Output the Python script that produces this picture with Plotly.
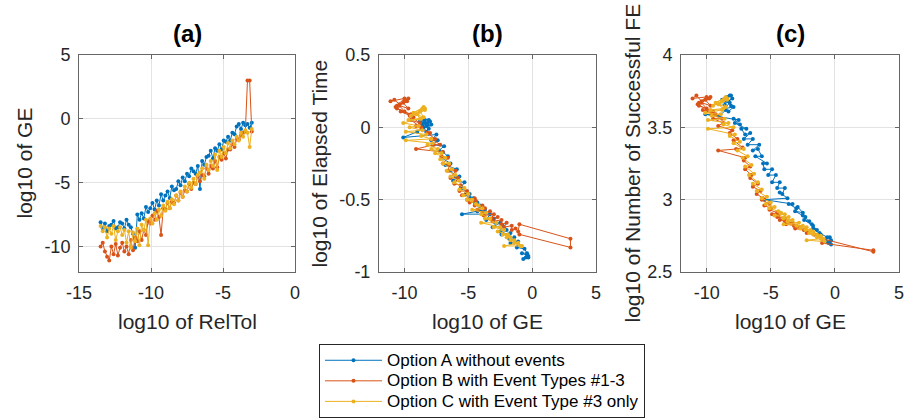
import plotly.graph_objects as go

W, H = 913, 418

reltol = [-13.5, -13.35, -13.2, -13.05, -12.9, -12.75, -12.6, -12.45, -12.3, -12.15,
          -12.0, -11.85, -11.7, -11.55, -11.4, -11.25, -11.1, -10.95, -10.8, -10.65,
          -10.5, -10.35, -10.2, -10.05, -9.9, -9.75, -9.6, -9.45, -9.3, -9.15,
          -9.0, -8.85, -8.7, -8.55, -8.4, -8.25, -8.1, -7.95, -7.8, -7.65,
          -7.5, -7.35, -7.2, -7.05, -6.9, -6.75, -6.6, -6.45, -6.3, -6.15,
          -6.0, -5.85, -5.7, -5.55, -5.4, -5.25, -5.1, -4.95, -4.8, -4.65,
          -4.5, -4.35, -4.2, -4.05, -3.9, -3.75, -3.6, -3.45, -3.3, -3.15, -3.0]

ge_a = [-8.1, -8.6, -8.2, -8.8, -8.4, -8.3, -8.0, -8.6, -8.5, -8.1,
        -8.2, -8.6, -7.9, -8.3, -8.5, -9.0, -10.1, -7.5, -7.9, -7.4,
        -7.8, -6.9, -7.3, -7.0, -6.6, -7.1, -6.4, -6.8, -5.9, -6.4,
        -6.0, -5.7, -6.2, -5.3, -5.6, -5.5, -4.9, -5.2, -4.6, -4.9,
        -4.3, -4.5, -3.9, -4.1, -4.3, -3.7, -5.5, -3.3, -3.6, -3.0,
        -2.9, -2.5, -3.1, -2.3, -2.5, -2.0, -2.4, -1.7, -1.8, -1.4,
        -1.7, -1.1, -1.2, -0.6, -0.4, -0.8, -0.3, -0.5, -0.4, -0.7, -0.3]
ge_b = [-10.0, -9.7, -10.4, -10.8, -11.1, -10.0, -10.6, -9.8, -10.7, -10.1,
        -9.7, -10.4, -10.0, -10.6, -9.5, -10.3, -9.3, -9.6, -8.8, -9.5,
        -8.7, -9.1, -8.0, -8.2, -7.6, -7.9, -7.2, -7.7, -9.1, -7.0,
        -7.1, -6.6, -7.0, -6.5, -6.6, -6.0, -6.4, -5.8, -6.1, -5.6,
        -5.7, -5.1, -5.5, -5.0, -5.1, -4.5, -4.9, -4.4, -4.5, -3.9,
        -4.3, -3.7, -3.9, -3.3, -3.8, -3.0, -3.2, -2.7, -3.1, -2.4,
        -2.4, -2.0, -2.2, -1.6, -1.6, -1.3, -1.1, -1.0, 3.0, 3.0, -1.0]
ge_c = [-8.4, -8.8, -8.5, -9.3, -8.6, -9.0, -8.4, -9.5, -8.8, -8.5,
        -9.1, -8.7, -9.7, -8.8, -10.1, -8.9, -9.6, -8.6, -9.9, -8.3,
        -8.7, -7.9, -9.9, -7.8, -8.2, -7.4, -7.9, -7.1, -7.6, -6.8,
        -7.2, -6.5, -7.0, -6.3, -6.7, -6.0, -6.4, -5.7, -6.1, -5.3,
        -5.7, -5.0, -5.4, -4.7, -5.1, -4.4, -4.2, -3.9, -4.7, -3.6,
        -4.0, -3.3, -3.7, -2.8, -4.0, -2.5, -3.0, -2.2, -2.7, -1.9,
        -2.3, -1.7, -2.0, -1.4, -1.7, -1.1, -1.4, -0.9, -1.1, -2.2, -0.8]

time_a = [0.05, 0.06, 0.03, 0.04, 0.05, 0.01, 0.04, 0.02, 0.03, -0.01,
          0.02, -0.01, 0.02, -0.03, 0.0, -0.03, -0.07, -0.05, -0.09, -0.09,
          -0.12, -0.13, -0.16, -0.17, -0.2, -0.21, -0.25, -0.26, -0.29, -0.3,
          -0.34, -0.34, -0.37, -0.38, -0.42, -0.42, -0.46, -0.46, -0.49, -0.49,
          -0.52, -0.52, -0.55, -0.54, -0.58, -0.57, -0.6, -0.6, -0.64, -0.63,
          -0.66, -0.66, -0.69, -0.68, -0.72, -0.71, -0.74, -0.73, -0.77, -0.76,
          -0.8, -0.79, -0.83, -0.84, -0.87, -0.87, -0.89, -0.9, -0.88, -0.91, -0.9]
time_b = [0.18, 0.2, 0.16, 0.19, 0.18, 0.2, 0.15, 0.18, 0.14, 0.17,
          0.13, 0.15, 0.11, 0.13, 0.09, 0.11, 0.07, 0.08, 0.03, 0.05,
          0.0, 0.01, -0.04, -0.04, -0.08, -0.08, -0.12, -0.12, -0.15, -0.17,
          -0.2, -0.21, -0.25, -0.26, -0.3, -0.3, -0.35, -0.35, -0.39, -0.4,
          -0.44, -0.44, -0.47, -0.46, -0.5, -0.49, -0.52, -0.51, -0.54, -0.54,
          -0.57, -0.56, -0.59, -0.58, -0.61, -0.6, -0.63, -0.62, -0.65, -0.64,
          -0.67, -0.66, -0.69, -0.68, -0.71, -0.7, -0.72, -0.67, -0.77, -0.83, -0.74]
time_c = [0.13, 0.11, 0.14, 0.1, 0.13, 0.09, 0.12, 0.08, 0.11, 0.07,
          0.09, 0.06, 0.05, 0.06, 0.03, 0.01, 0.0, -0.02, -0.03, -0.05,
          -0.06, -0.08, -0.09, -0.11, -0.12, -0.15, -0.15, -0.18, -0.18, -0.21,
          -0.22, -0.25, -0.25, -0.29, -0.3, -0.33, -0.34, -0.37, -0.38, -0.42,
          -0.43, -0.46, -0.47, -0.5, -0.5, -0.53, -0.54, -0.56, -0.57, -0.59,
          -0.6, -0.63, -0.63, -0.66, -0.66, -0.69, -0.69, -0.71, -0.72, -0.74,
          -0.74, -0.76, -0.76, -0.78, -0.78, -0.8, -0.8, -0.82, -0.8, -0.82, -0.82]

fe_a = [3.72, 3.7, 3.72, 3.69, 3.71, 3.68, 3.7, 3.66, 3.69, 3.65,
        3.67, 3.63, 3.64, 3.61, 3.62, 3.58, 3.59, 3.55, 3.56, 3.52,
        3.53, 3.49, 3.49, 3.45, 3.46, 3.42, 3.42, 3.38, 3.38, 3.34,
        3.35, 3.3, 3.3, 3.25, 3.25, 3.21, 3.21, 3.17, 3.17, 3.12,
        3.12, 3.08, 3.08, 3.04, 3.05, 3.01, 3.0, 2.97, 2.97, 2.94,
        2.95, 2.91, 2.92, 2.88, 2.89, 2.85, 2.86, 2.82, 2.83, 2.79,
        2.8, 2.76, 2.77, 2.74, 2.74, 2.72, 2.72, 2.7, 2.7, 2.71, 2.69]
fe_b = [3.7, 3.71, 3.68, 3.72, 3.7, 3.71, 3.67, 3.7, 3.66, 3.69,
        3.65, 3.67, 3.63, 3.65, 3.61, 3.62, 3.59, 3.59, 3.56, 3.56,
        3.53, 3.51, 3.48, 3.46, 3.42, 3.41, 3.36, 3.35, 3.34, 3.29,
        3.27, 3.23, 3.21, 3.17, 3.15, 3.11, 3.09, 3.06, 3.04, 3.01,
        3.0, 2.97, 2.96, 2.94, 2.93, 2.91, 2.9, 2.89, 2.88, 2.87,
        2.86, 2.85, 2.85, 2.84, 2.83, 2.82, 2.82, 2.81, 2.8, 2.79,
        2.79, 2.78, 2.77, 2.76, 2.76, 2.75, 2.74, 2.73, 2.64, 2.65, 2.7]
fe_c = [3.7, 3.68, 3.71, 3.67, 3.7, 3.66, 3.69, 3.65, 3.68, 3.64,
        3.66, 3.63, 3.62, 3.62, 3.6, 3.59, 3.58, 3.56, 3.55, 3.53,
        3.52, 3.5, 3.49, 3.45, 3.44, 3.4, 3.39, 3.35, 3.34, 3.3,
        3.29, 3.24, 3.23, 3.18, 3.17, 3.12, 3.11, 3.07, 3.06, 3.02,
        3.01, 2.98, 2.97, 2.95, 2.94, 2.92, 2.91, 2.9, 2.89, 2.88,
        2.87, 2.86, 2.85, 2.84, 2.83, 2.82, 2.82, 2.81, 2.8, 2.79,
        2.79, 2.78, 2.77, 2.76, 2.76, 2.75, 2.74, 2.73, 2.73, 2.72, 2.71]

names = ["Option A without events", "Option B with Event Types #1-3",
         "Option C with Event Type #3 only"]
colors = ["#0072BD", "#D95319", "#EDB120"]
panel_titles = ["(a)", "(b)", "(c)"]
xtitles = ["log10 of RelTol", "log10 of GE", "log10 of GE"]
ytitles = ["log10 of GE", "log10 of Elapsed Time", "log10 of Number of Successful FE"]

# axis ranges, tick values and tick labels
xr = [[-15, 0], [-12, 5], [-12, 5]]
xt = [[-15, -10, -5, 0], [-10, -5, 0, 5], [-10, -5, 0, 5]]
xtl = [["-15", "-10", "-5", "0"], ["-10", "-5", "0", "5"], ["-10", "-5", "0", "5"]]
yr = [[-12, 5], [-1, 0.5], [2.5, 4]]
yt = [[-10, -5, 0, 5], [-1, -0.5, 0, 0.5], [2.5, 3, 3.5, 4]]
ytl = [["-10", "-5", "0", "5"], ["-1", "-0.5", "0", "0.5"], ["2.5", "3", "3.5", "4"]]

ge = [ge_a, ge_b, ge_c]
tm = [time_a, time_b, time_c]
fe = [fe_a, fe_b, fe_c]

FONT = "Liberation Sans, Arial, Helvetica, sans-serif"

fig = go.Figure()
for k in range(3):
    common = dict(mode="lines+markers", line=dict(color=colors[k], width=1),
                  marker=dict(color=colors[k], size=4),
                  name='<span style="font-size:17px">' + names[k] + '</span>')
    fig.add_trace(go.Scatter(x=reltol, y=ge[k], xaxis="x", yaxis="y",
                             showlegend=True, **common))
    fig.add_trace(go.Scatter(x=ge[k], y=tm[k], xaxis="x2", yaxis="y2",
                             showlegend=False, **common))
    fig.add_trace(go.Scatter(x=ge[k], y=fe[k], xaxis="x3", yaxis="y3",
                             showlegend=False, **common))

# pixel layout of the three axes boxes
boxes = [(79, 295), (379, 596), (681, 899)]
top, bottom = 55, 272
ydom = [1 - bottom / H, 1 - top / H]

axstyle = dict(showline=True, linecolor="#666666", linewidth=1, mirror="ticks",
               ticks="inside", ticklen=4, tickcolor="#666666", automargin=False,
               showgrid=True, gridcolor="#e3e3e3", gridwidth=1, zeroline=False,
               tickfont=dict(family=FONT, size=18, color="#262626"))

lay = {}
for k in range(3):
    sx = "" if k == 0 else str(k + 1)
    lay["xaxis" + sx] = dict(domain=[boxes[k][0] / W, boxes[k][1] / W], range=xr[k],
                             tickvals=xt[k], ticktext=xtl[k], anchor="y" + sx,
                             ticklabelstandoff=4, **axstyle)
    lay["yaxis" + sx] = dict(domain=ydom, range=yr[k], tickvals=yt[k],
                             ticktext=ytl[k], anchor="x" + sx,
                             ticklabelstandoff=4, **axstyle)
fig.update_layout(**lay)

ann = []
ycent = 1 - (top + bottom) / 2 / H
ytitle_x = [24, 319, 632]
for k in range(3):
    xc = (boxes[k][0] + boxes[k][1]) / 2 / W
    base = dict(xref="paper", yref="paper", showarrow=False,
                xanchor="center", yanchor="middle")
    ann.append(dict(text="<b>" + panel_titles[k] + "</b>", x=xc, y=1 - 33 / H,
                    font=dict(family=FONT, size=24, color="black"), **base))
    ann.append(dict(text=xtitles[k], x=xc, y=1 - 321 / H,
                    font=dict(family=FONT, size=21, color="#262626"), **base))
    ann.append(dict(text=ytitles[k], x=ytitle_x[k] / W, y=ycent, textangle=-90,
                    font=dict(family=FONT, size=21, color="#262626"), **base))

fig.update_layout(
    width=W, height=H, margin=dict(l=0, r=0, t=0, b=0, autoexpand=False),
    paper_bgcolor="white", plot_bgcolor="white",
    annotations=ann,
    legend=dict(x=319 / W, y=1 - 344 / H, xanchor="left", yanchor="top",
                bordercolor="#262626", borderwidth=1, bgcolor="white",
                font=dict(family=FONT, size=13.5, color="black"),
                itemwidth=57, tracegroupgap=0),
)

fig.write_html("out.html")
